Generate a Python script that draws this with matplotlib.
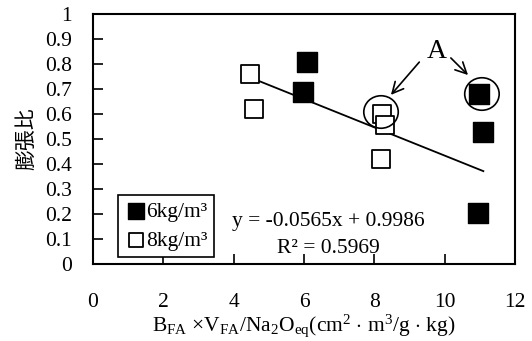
import matplotlib
matplotlib.use("Agg")
import matplotlib.pyplot as plt
from matplotlib.patches import Ellipse

plt.rcParams['font.family'] = ['Liberation Serif', 'Noto Sans CJK JP']
plt.rcParams['mathtext.fontset'] = 'custom'
plt.rcParams['mathtext.rm'] = 'Liberation Serif'
plt.rcParams['mathtext.it'] = 'Liberation Serif'

# 6kg/m3 series
x_6 = [6.08, 5.97, 10.97, 11.09, 10.95]
y_6 = [0.81, 0.69, 0.68, 0.53, 0.205]
# 8kg/m3 series
x_8 = [4.46, 4.58, 8.22, 8.30, 8.19]
y_8 = [0.76, 0.62, 0.60, 0.555, 0.42]

slope, intercept = -0.0565, 0.9986
fit_x = [4.45, 11.1]
r2 = 0.5969

FS = 15.5

fig = plt.figure(figsize=(5.32, 3.41), dpi=100)
ax = fig.add_axes([93 / 532, 1 - 264 / 341, 422 / 532, 250 / 341])

ax.plot(fit_x, [slope * v + intercept for v in fit_x], color='black', lw=1.3, zorder=2)
ax.scatter(x_6, y_6, marker='s', s=190, facecolor='black', edgecolor='black',
           label='6kg/m³', zorder=3)
ax.scatter(x_8, y_8, marker='s', s=165, facecolor='white', edgecolor='black',
           linewidth=1.3, label='8kg/m³', zorder=3)

# circled points marked "A"
for cx, cy in [(8.19, 0.608), (11.06, 0.68)]:
    ax.add_patch(Ellipse((cx, cy), 0.98, 0.13, fill=False, color='black', lw=1.2, zorder=4))
ax.text(9.78, 0.85, 'A', fontsize=20, ha='center', va='center')
ax.annotate('', xy=(8.42, 0.668), xytext=(9.33, 0.816),
            arrowprops=dict(arrowstyle='->', lw=1.2, mutation_scale=20, color='black'))
ax.annotate('', xy=(10.72, 0.748), xytext=(10.12, 0.832),
            arrowprops=dict(arrowstyle='->', lw=1.2, mutation_scale=20, color='black'))

ax.text(6.7, 0.17, 'y = -0.0565x + 0.9986', fontsize=FS, ha='center', va='center')
ax.text(6.7, 0.062, 'R² = %.4f' % r2, fontsize=FS, ha='center', va='center')

ax.set_xlim(0, 12)
ax.set_ylim(0, 1)
ax.set_xticks(range(0, 13, 2))
ax.set_yticks([i / 10 for i in range(11)])
ax.set_yticklabels(['0'] + ['%.1f' % (i / 10) for i in range(1, 10)] + ['1'])
ax.tick_params(axis='both', direction='in', length=7, width=1.2, labelsize=FS)
ax.tick_params(axis='x', pad=21)
ax.tick_params(axis='y', pad=15)
for sp in ax.spines.values():
    sp.set_linewidth(1.5)

ax.set_ylabel('膨張比', fontsize=15, family=['Noto Sans CJK JP'], labelpad=6)
ax.set_xlabel(r'B$_{\rm FA}$ ×V$_{\rm FA}$/Na$_2$O$_{\rm eq}$(cm$^2$ $\cdot$ m$^3$/g $\cdot$ kg)',
              fontsize=FS, labelpad=0)

leg = ax.legend(loc='lower left', bbox_to_anchor=(0.06, 0.028), fontsize=FS,
                frameon=True, fancybox=False, edgecolor='black', handletextpad=0.0,
                handlelength=1.0, borderpad=0.3, labelspacing=0.4, markerscale=0.8,
                borderaxespad=0, framealpha=1)
leg.get_frame().set_linewidth(1.2)

fig.savefig('out.png', dpi=100)
